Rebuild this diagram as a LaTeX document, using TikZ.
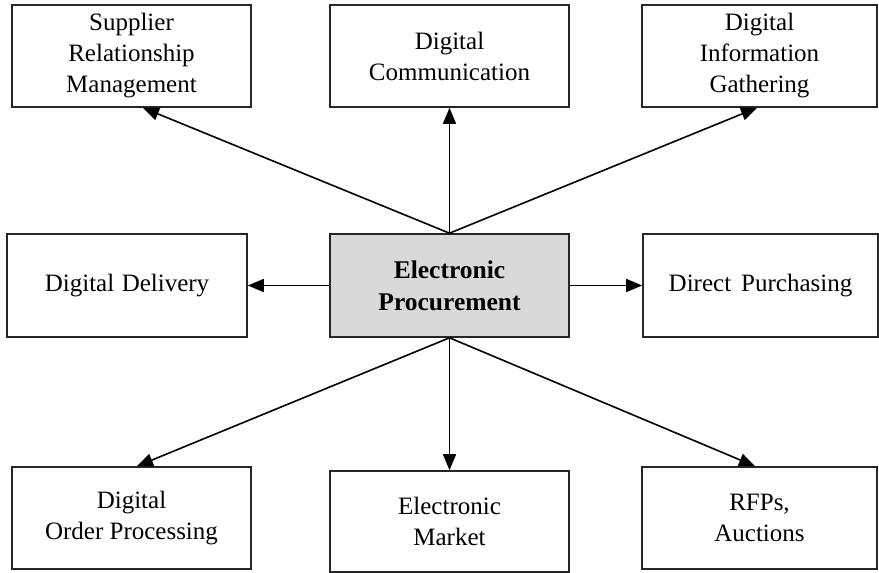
\documentclass[tikz,border=0pt]{standalone}
\usepackage{fontspec}
\setmainfont{Liberation Serif}
\usetikzlibrary{arrows.meta}
\begin{document}
\begin{tikzpicture}[x=1pt,y=-1pt,
  box/.style={draw=black!85,line width=1.6pt,rectangle,inner sep=0pt,
    minimum height=102pt,align=center,
    font=\fontsize{25}{31}\selectfont},
  hub/.style={box,fill=black!15,minimum width=239pt,minimum height=103pt,
    font=\fontsize{25.5}{32}\selectfont\bfseries},
  link/.style={line width=1.6pt,-{Triangle[length=16pt,width=13pt]}}]
\useasboundingbox (0,0) rectangle (879,573);

% centre
\node[hub] (ep) at (449.5,285.5) {Electronic\\Procurement};

% top row
\node[box,minimum width=239pt] (srm) at (131.5,56) {Supplier\\Relationship\\Management};
\node[box,minimum width=239pt] (dc)  at (449.5,56) {Digital\\Communication};
\node[box,minimum width=235pt] (dig) at (759.5,56) {Digital\\Information\\Gathering};

% middle row
\node[box,minimum width=240pt,minimum height=103pt] (dd) at (127,285.5) {Digital\hspace{0.3em}Delivery};
\node[box,minimum width=235pt,minimum height=103pt] (dp) at (760.5,285.5) {Direct\hspace{0.4em}Purchasing};

% bottom row
\node[box,minimum width=239pt] (dop) at (131.5,518) {Digital\\Order Processing};
\node[box,minimum width=239pt,minimum height=101pt] (em) at (449.5,521.5) {Electronic\\Market};
\node[box,minimum width=235pt] (rfp) at (759.5,518) {RFPs,\\Auctions};

% connectors
\draw[link] (ep.north) -- ([xshift=11.5pt]srm.south);
\draw[link] (ep.north) -- (dc.south);
\draw[link] (ep.north) -- ([xshift=-2.5pt]dig.south);
\draw[link] (ep.west) -- (dd.east);
\draw[link] (ep.east) -- (dp.west);
\draw[link] (ep.south) -- ([xshift=5.5pt]dop.north);
\draw[link] (ep.south) -- (em.north);
\draw[link] (ep.south) -- ([xshift=-4.5pt]rfp.north);
\end{tikzpicture}
\end{document}
